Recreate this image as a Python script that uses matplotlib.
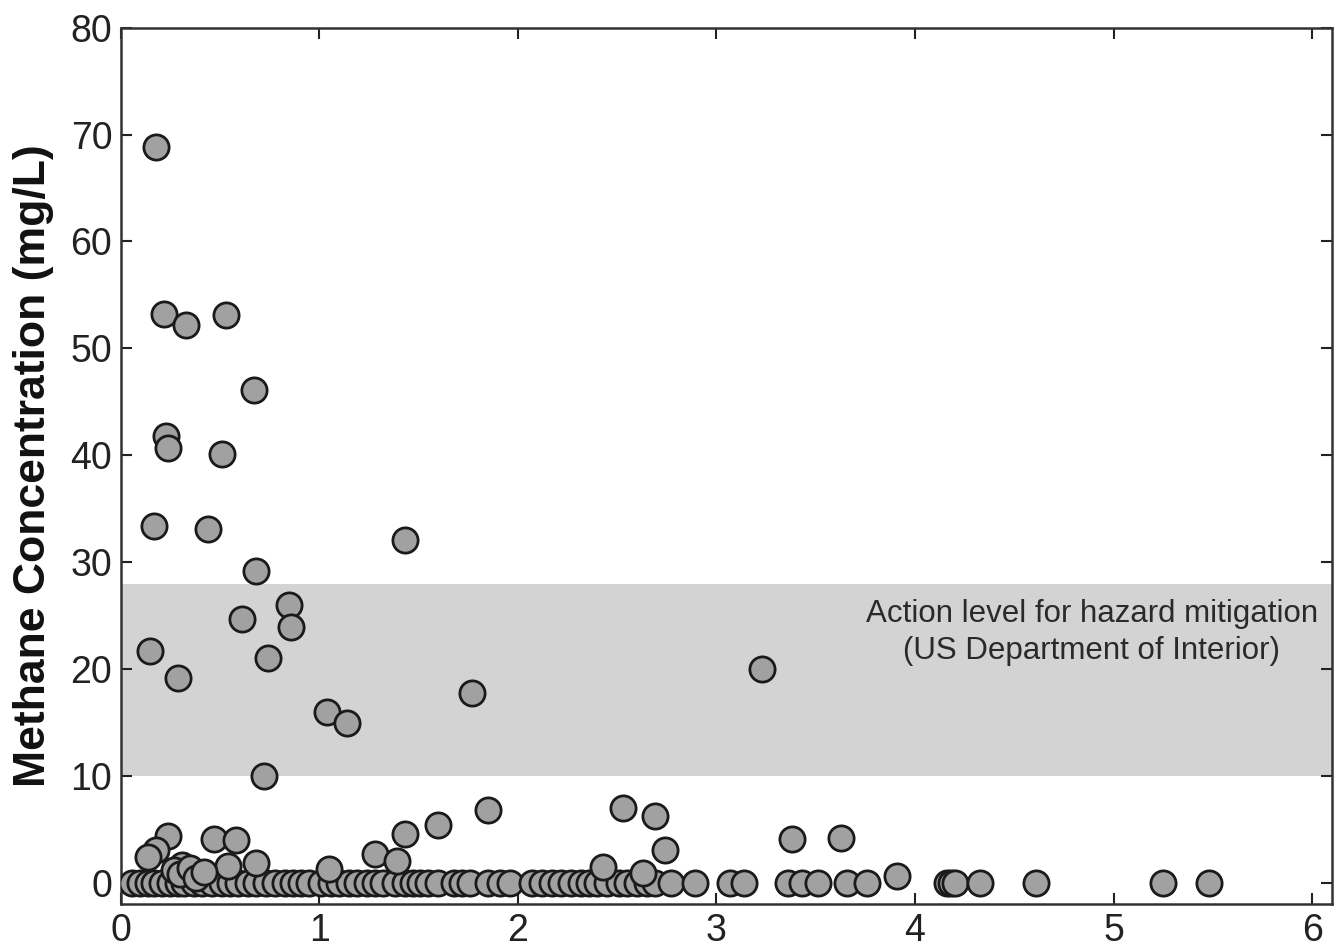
import numpy as np
import matplotlib.pyplot as plt

plt.rcParams['font.family'] = ['Liberation Sans', 'DejaVu Sans']

# Pontos acima da linha de base (distância, concentração de metano)
dist_high = [0.18, 0.22, 0.33, 0.53, 0.67, 0.23, 0.24, 0.51, 0.17, 0.44, 1.43, 0.68,
             0.85, 0.86, 0.61, 0.15, 0.74, 0.29, 1.77, 3.23, 1.04, 1.14, 0.72,
             1.85, 1.60, 1.43, 2.53, 2.69, 2.74, 3.38, 3.63, 3.91,
             0.24, 0.47, 0.58, 0.18, 0.14, 1.28, 1.39, 0.68, 0.54, 0.31, 1.05,
             2.43, 2.63, 0.27, 0.30, 0.35, 0.38, 0.42]
methane_high = [68.8, 53.2, 52.2, 53.1, 46.1, 41.8, 40.7, 40.1, 33.4, 33.1, 32.1, 29.2,
                26.0, 23.9, 24.7, 21.7, 21.0, 19.2, 17.8, 20.0, 16.0, 15.0, 10.0,
                6.8, 5.4, 4.6, 7.0, 6.3, 3.1, 4.1, 4.2, 0.65,
                4.4, 4.1, 4.0, 3.1, 2.4, 2.7, 2.1, 1.9, 1.6, 1.7, 1.3,
                1.5, 0.9, 1.2, 0.8, 1.4, 0.5, 1.0]

# Pontos na linha de base (concentração ~0)
dist_zero = [0.055, 0.10, 0.14, 0.17, 0.21, 0.25, 0.29, 0.32, 0.37, 0.41, 0.46, 0.51,
             0.55, 0.59, 0.64, 0.68, 0.73, 0.78, 0.83, 0.87, 0.91, 0.95, 1.01, 1.06,
             1.10, 1.15, 1.19, 1.24, 1.28, 1.32, 1.38, 1.43, 1.47, 1.51, 1.55, 1.60,
             1.68, 1.72, 1.76, 1.85, 1.91, 1.96, 2.07, 2.12, 2.17, 2.22, 2.27, 2.32,
             2.36, 2.40, 2.45, 2.51, 2.55, 2.60, 2.65, 2.69, 2.77, 2.89, 3.07, 3.14,
             3.36, 3.43, 3.51, 3.66, 3.76, 4.16, 4.18, 4.20, 4.33, 4.61, 5.25, 5.48]
methane_zero = [0.0] * len(dist_zero)

band_low, band_high = 10, 28
band_text = 'Action level for hazard mitigation\n(US Department of Interior)'

fig = plt.figure(figsize=(13.4, 9.52), dpi=100)
ax = fig.add_axes([0.090, 0.050, 0.904, 0.921])

ax.axhspan(band_low, band_high, color='#d3d3d3', lw=0, zorder=0)
ax.text(4.89, 23.4, band_text, ha='center', va='center', fontsize=22.5,
        color='#2a2a2a', linespacing=1.3)

ax.scatter(dist_zero, methane_zero, s=330, facecolor='#a1a1a1',
           edgecolor='#1a1a1a', linewidth=2.0, zorder=3)
ax.scatter(dist_high, methane_high, s=330, facecolor='#a1a1a1',
           edgecolor='#1a1a1a', linewidth=2.0, zorder=3)

ax.set_xlim(0, 6.1)
ax.set_ylim(-2, 80)
ax.set_xticks(range(0, 7))
ax.set_yticks(range(0, 81, 10))
ax.tick_params(direction='in', length=8, width=1.5, top=True, right=True,
               labelsize=27, colors='#222222', pad=6)
for sp in ax.spines.values():
    sp.set_linewidth(1.8)
    sp.set_color('#333333')

ax.set_ylabel('Methane Concentration (mg/L)', fontsize=32, fontweight='bold',
              color='#111111', labelpad=12)

fig.savefig('out.png', dpi=100)
